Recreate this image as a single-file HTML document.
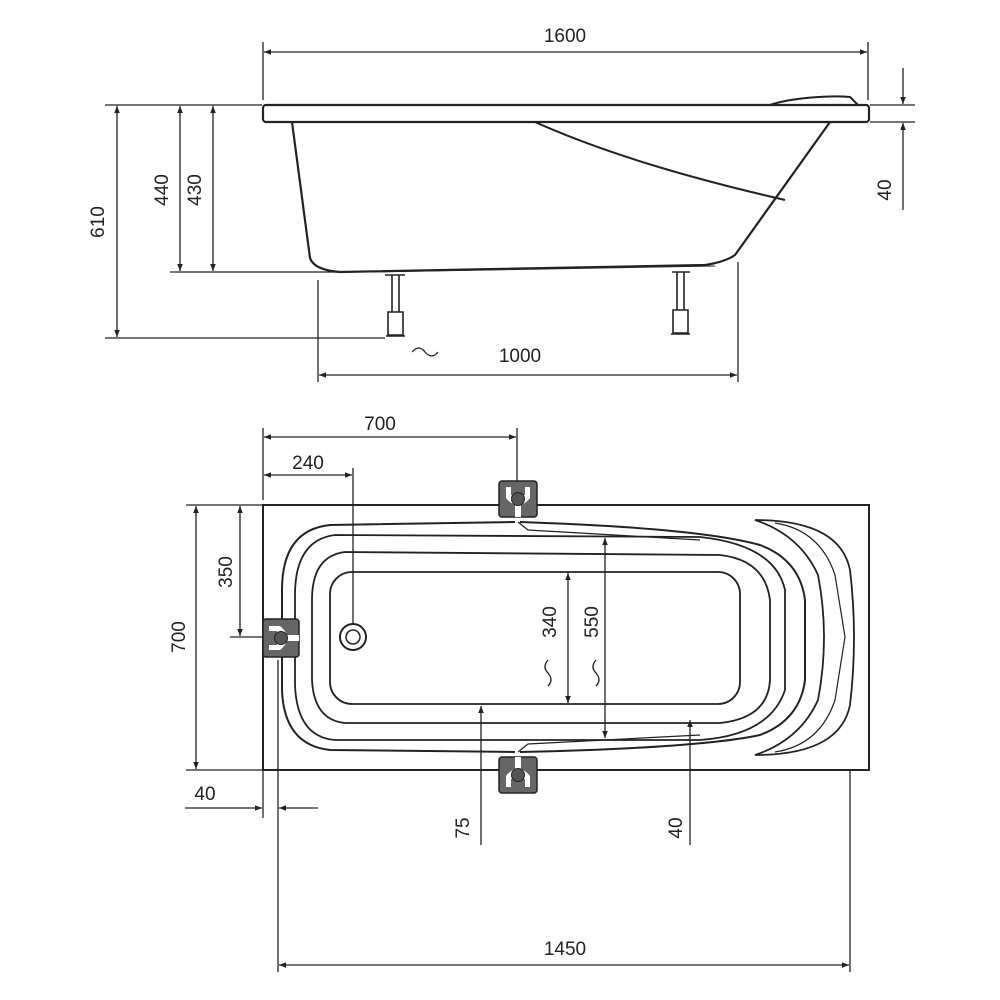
<!DOCTYPE html>
<html><head><meta charset="utf-8"><style>
html,body{margin:0;padding:0;background:#fff;}
svg{display:block}
text{font-family:"Liberation Sans",sans-serif;font-size:19px;fill:#222;}
</style></head><body>
<svg width="1000" height="1000" viewBox="0 0 1000 1000" xmlns="http://www.w3.org/2000/svg">
<defs>
<marker id="a" viewBox="0 0 10 10" refX="10" refY="5" markerWidth="9" markerHeight="7" orient="auto-start-reverse" markerUnits="userSpaceOnUse">
<path d="M0,1 L10,5 L0,9 z" fill="#222"/></marker>
<g id="br">
<rect x="-19" y="-18" width="38" height="36" rx="3" fill="#666" stroke="#222" stroke-width="1.5"/>
<path d="M-12,-12 L-7,-12 L-7,-4 L7,-4 L7,-12 L12,-12 L12,-1 Q8,4 3,6 L3,18 L-3,18 L-3,6 Q-8,4 -12,-1 Z" fill="#fff" stroke="none"/>
<circle cx="0" cy="0" r="6.5" fill="#555" stroke="#222" stroke-width="1"/>
</g>
</defs>
<g stroke="#222" stroke-width="1.3" fill="none">
<line x1="263" y1="42" x2="263" y2="100"/><line x1="868" y1="42" x2="868" y2="100"/>
<line x1="264" y1="52" x2="867" y2="52" marker-start="url(#a)" marker-end="url(#a)"/>
<rect x="263" y="105" width="606" height="17" rx="3" stroke-width="2.2"/>
<path d="M770,105 C790,98 830,95 850,97 L858,105" stroke-width="2"/>
<path d="M292,122 L310,258 Q314,270 340,272 L705,265 Q725,262 735,255 L830,122" stroke-width="2.2"/>
<path d="M535,122 C620,160 720,185 785,200" stroke-width="2"/>
<line x1="370" y1="272" x2="715" y2="266" stroke-width="1"/>
<g stroke-width="1.6">
<path d="M385,275 L405,275 M392,275 L392,312 M399,275 L399,312 M388,312 L403,312 L403,335 L388,335 Z M386,336 L405,336"/>
<path d="M672,272 L690,272 M677,272 L677,310 M684,272 L684,310 M673,310 L688,310 L688,333 L673,333 Z M671,334 L690,334"/>
</g>
<line x1="105" y1="105" x2="262" y2="105"/>
<line x1="105" y1="338" x2="385" y2="338"/>
<line x1="170" y1="272" x2="340" y2="272"/>
<line x1="117" y1="106" x2="117" y2="337" marker-start="url(#a)" marker-end="url(#a)"/>
<line x1="180" y1="106" x2="180" y2="271" marker-start="url(#a)" marker-end="url(#a)"/>
<line x1="213" y1="106" x2="213" y2="271" marker-start="url(#a)" marker-end="url(#a)"/>
<line x1="870" y1="105" x2="915" y2="105"/><line x1="870" y1="122" x2="915" y2="122"/>
<line x1="903" y1="68" x2="903" y2="104" marker-end="url(#a)"/>
<line x1="903" y1="210" x2="903" y2="123" marker-end="url(#a)"/>
<line x1="318" y1="280" x2="318" y2="382"/><line x1="738" y1="262" x2="738" y2="382"/>
<line x1="319" y1="375" x2="737" y2="375" marker-start="url(#a)" marker-end="url(#a)"/>
<path d="M412,352 q7,-8 13,0 q7,8 13,0"/>

<rect x="263" y="505" width="606" height="265" stroke-width="2"/>
<path d="M515,522 L330,525 Q282,530 282,590 L282,690 Q284,745 330,750 L515,752" stroke-width="2"/>
<path d="M520,522 Q700,528 760,545 Q800,560 805,600 L805,680 Q800,720 760,735 Q700,748 520,752" stroke-width="2"/>
<path d="M335,535 Q295,540 295,595 L295,685 Q297,737 335,740 L700,740 Q770,735 785,690 L785,590 Q775,545 700,537 Z" stroke-width="1.8"/>
<path d="M345,552 Q312,556 312,600 L312,680 Q314,720 345,723 L720,723 Q768,718 770,680 L770,600 Q765,560 720,555 Z" stroke-width="1.8"/>
<rect x="330" y="572" width="410" height="132" rx="22" stroke-width="1.8"/>
<path d="M755,520 Q840,520 850,570 Q858,637 850,705 Q840,755 755,755 Q800,740 818,700 Q830,637 818,575 Q800,535 755,520 Z" stroke-width="1.8"/>
<path d="M775,523 Q820,530 835,575 L845,637 L835,700 Q820,745 775,752" stroke-width="1.2"/>
<path d="M518,522 L528,530 L700,540 M518,752 L528,744 L700,735" stroke-width="1.2"/>
<circle cx="353" cy="637" r="13" stroke-width="2"/><circle cx="353" cy="637" r="7" stroke-width="1.5"/>
<line x1="263" y1="428" x2="263" y2="500"/><line x1="517" y1="428" x2="517" y2="482"/>
<line x1="264" y1="437" x2="516" y2="437" marker-start="url(#a)" marker-end="url(#a)"/>
<line x1="353" y1="468" x2="353" y2="625"/>
<line x1="264" y1="475" x2="352" y2="475" marker-start="url(#a)" marker-end="url(#a)"/>
<line x1="186" y1="505" x2="262" y2="505"/><line x1="186" y1="770" x2="262" y2="770"/>
<line x1="230" y1="637" x2="265" y2="637"/>
<line x1="240" y1="506" x2="240" y2="636" marker-start="url(#a)" marker-end="url(#a)"/>
<line x1="196" y1="506" x2="196" y2="769" marker-start="url(#a)" marker-end="url(#a)"/>
<line x1="263" y1="771" x2="263" y2="818"/><line x1="278" y1="660" x2="278" y2="972"/>
<line x1="185" y1="808" x2="262" y2="808" marker-end="url(#a)"/>
<line x1="318" y1="808" x2="279" y2="808" marker-end="url(#a)"/>
<line x1="568" y1="573" x2="568" y2="703" marker-start="url(#a)" marker-end="url(#a)"/>
<line x1="605" y1="538" x2="605" y2="738" marker-start="url(#a)" marker-end="url(#a)"/>
<path d="M548,660 q-6,7 0,13 q6,7 0,13 M596,660 q-6,7 0,13 q6,7 0,13"/>
<line x1="481" y1="845" x2="481" y2="706" marker-end="url(#a)"/>
<line x1="690" y1="845" x2="690" y2="720" marker-end="url(#a)"/>
<line x1="850" y1="770" x2="850" y2="972"/>
<line x1="279" y1="965" x2="849" y2="965" marker-start="url(#a)" marker-end="url(#a)"/>
</g>
<use href="#br" x="518" y="499"/>
<use href="#br" transform="translate(281,638) rotate(-90)"/>
<use href="#br" transform="translate(518,775) rotate(180)"/>
<text x="565" y="42" text-anchor="middle">1600</text>
<text x="520" y="362" text-anchor="middle">1000</text>
<text x="380" y="430" text-anchor="middle">700</text>
<text x="308" y="469" text-anchor="middle">240</text>
<text x="205" y="800" text-anchor="middle">40</text>
<text x="565" y="955" text-anchor="middle">1450</text>
<text transform="translate(104,222) rotate(-90)" text-anchor="middle">610</text>
<text transform="translate(168,190) rotate(-90)" text-anchor="middle">440</text>
<text transform="translate(201,190) rotate(-90)" text-anchor="middle">430</text>
<text transform="translate(891,190) rotate(-90)" text-anchor="middle">40</text>
<text transform="translate(232,572) rotate(-90)" text-anchor="middle">350</text>
<text transform="translate(185,637) rotate(-90)" text-anchor="middle">700</text>
<text transform="translate(556,622) rotate(-90)" text-anchor="middle">340</text>
<text transform="translate(598,622) rotate(-90)" text-anchor="middle">550</text>
<text transform="translate(469,828) rotate(-90)" text-anchor="middle">75</text>
<text transform="translate(682,828) rotate(-90)" text-anchor="middle">40</text>
</svg>
</body></html>
